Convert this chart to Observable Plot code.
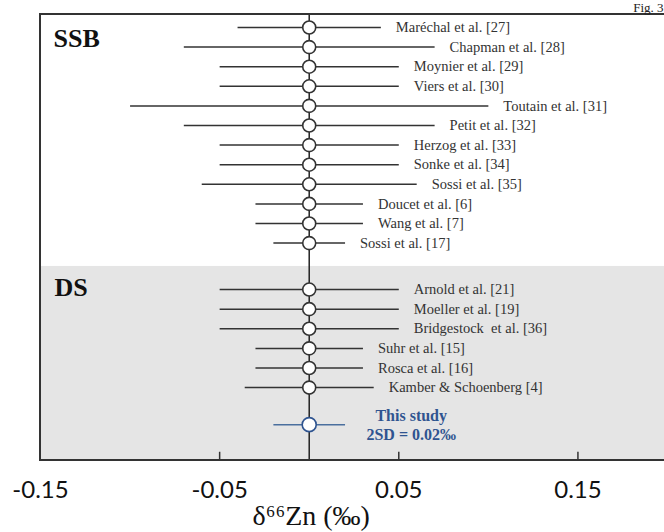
<!DOCTYPE html>
<html>
<head>
<meta charset="utf-8">
<script src="https://cdn.jsdelivr.net/npm/d3@7"></script>
<script src="https://cdn.jsdelivr.net/npm/@observablehq/plot@0.6"></script>
<style>
  html, body { margin: 0; padding: 0; background: #fff; overflow: hidden; }
  #chart svg { display: block; }
</style>
</head>
<body>
<div id="chart"></div>
<script>
// ---- data ----
const ssbStudies = [
  "Maréchal et al. [27]", "Chapman et al. [28]", "Moynier et al. [29]", "Viers et al. [30]",
  "Toutain et al. [31]", "Petit et al. [32]", "Herzog et al. [33]", "Sonke et al. [34]",
  "Sossi et al. [35]", "Doucet et al. [6]", "Wang et al. [7]", "Sossi et al. [17]"
];
const ssbMeans = [0, 0, 0, 0, 0, 0, 0, 0, 0, 0, 0, 0];
const ssb2SD   = [0.04, 0.07, 0.05, 0.05, 0.10, 0.07, 0.05, 0.05, 0.06, 0.03, 0.03, 0.02];

const dsStudies = [
  "Arnold et al. [21]", "Moeller et al. [19]", "Bridgestock  et al. [36]",
  "Suhr et al. [15]", "Rosca et al. [16]", "Kamber & Schoenberg [4]"
];
const dsMeans = [0, 0, 0, 0, 0, 0];
const ds2SD   = [0.05, 0.05, 0.05, 0.03, 0.03, 0.036];

const thisStudyLabel = "This study\n2SD = 0.02‰";
const thisStudyMean = 0;
const thisStudy2SD = 0.02;

const groupLabels = ["SSB", "DS"];
const xTicks = [-0.15, -0.05, 0.05, 0.15];
const xDomain = [-0.15, 0.2];
const xTitle = "δ⁶⁶Zn (‰)";
const figLabel = "Fig. 3";

// ---- row slots (vertical layout order, with gaps between groups) ----
const dsStart = 13.37;      // first DS row slot
const thisSlot = 20.26;     // "This study" slot
const yTop = -0.663, yBottom = 22.09, dsBandTop = 12.19;

const rows = [
  ...ssbStudies.map((s, i) => ({study: s, mean: ssbMeans[i], sd: ssb2SD[i], slot: i})),
  ...dsStudies.map((s, i) => ({study: s, mean: dsMeans[i], sd: ds2SD[i], slot: dsStart + i}))
];
const mine = [{study: thisStudyLabel, mean: thisStudyMean, sd: thisStudy2SD, slot: thisSlot}];

const serif = "'Liberation Serif', 'Times New Roman', serif";
const ink = "#333";
const blue = "#2f5490";

const chart = Plot.plot({
  width: 664,
  height: 532,
  marginLeft: 40,
  marginRight: 0,
  marginTop: 14,
  marginBottom: 72,
  style: {fontFamily: serif, background: "#fff"},
  x: {domain: xDomain, range: [40, 667]},
  y: {domain: [yTop, yBottom], range: [14, 460], axis: null},
  marks: [
    // DS shaded band
    Plot.rect([0], {x1: xDomain[0], x2: xDomain[1], y1: dsBandTop, y2: yBottom, fill: "#e5e5e5"}),
    // vertical reference line at 0
    Plot.ruleX([0], {y1: yTop, y2: yBottom, stroke: "#222", strokeWidth: 1.5}),
    // error bars
    Plot.link(rows, {x1: d => d.mean - d.sd, x2: d => d.mean + d.sd, y1: "slot", y2: "slot", stroke: ink, strokeWidth: 1.5}),
    Plot.link(mine, {x1: d => d.mean - d.sd, x2: d => d.mean + d.sd, y1: "slot", y2: "slot", stroke: "#4a6f9e", strokeWidth: 1.5}),
    // points
    Plot.dot(rows, {x: "mean", y: "slot", r: 6.5, fill: "white", stroke: ink, strokeWidth: 1.6}),
    Plot.dot(mine, {x: "mean", y: "slot", r: 7, fill: "white", stroke: blue, strokeWidth: 1.6}),
    // study labels
    Plot.text(rows, {x: d => d.mean + d.sd, y: "slot", text: "study", textAnchor: "start", dx: 15, fontSize: 14.5, fill: "#333"}),
    Plot.text(mine, {x: "mean", y: "slot", text: "study", textAnchor: "middle", dx: 102, fontSize: 16, fontWeight: "bold", fill: blue, lineHeight: 1.2}),
    // group labels
    Plot.text([groupLabels[0]], {frameAnchor: "top-left", dx: 13, dy: 14, text: d => d, textAnchor: "start", lineAnchor: "top", fontSize: 26, fontWeight: "bold", fill: "#111"}),
    Plot.text([groupLabels[1]], {x: xDomain[0], y: dsBandTop, text: d => d, textAnchor: "start", lineAnchor: "top", dx: 14, dy: 11, fontSize: 26, fontWeight: "bold", fill: "#111"}),
    // frame
    Plot.rect([0], {x1: xDomain[0], x2: xDomain[1], y1: yTop, y2: yBottom, fill: "none", stroke: "#333", strokeWidth: 2}),
    // inner tick marks
    Plot.ruleX(xTicks.slice(1), {y1: yBottom, y2: yBottom - 0.42, stroke: "#333", strokeWidth: 1.5}),
    // tick labels
    Plot.axisX({ticks: xTicks, tickSize: 0, tickPadding: 20, fontSize: 24, fontFamily: "Lato", fill: "#111",
      tickFormat: d => (d < 0 ? "-" : "") + Math.abs(d).toFixed(2), label: null}),
    // axis title
    Plot.text([xTitle], {x: 0, y: yBottom, text: d => d, dx: 2, dy: 56, fontSize: 28, fill: "#111"}),
    // figure tag
    Plot.text([figLabel], {frameAnchor: "top-right", text: d => d, textAnchor: "end", dx: -1, dy: -3, lineAnchor: "bottom", fontSize: 13, fill: "#222"})
  ]
});
document.getElementById("chart").appendChild(chart);
</script>
</body>
</html>
